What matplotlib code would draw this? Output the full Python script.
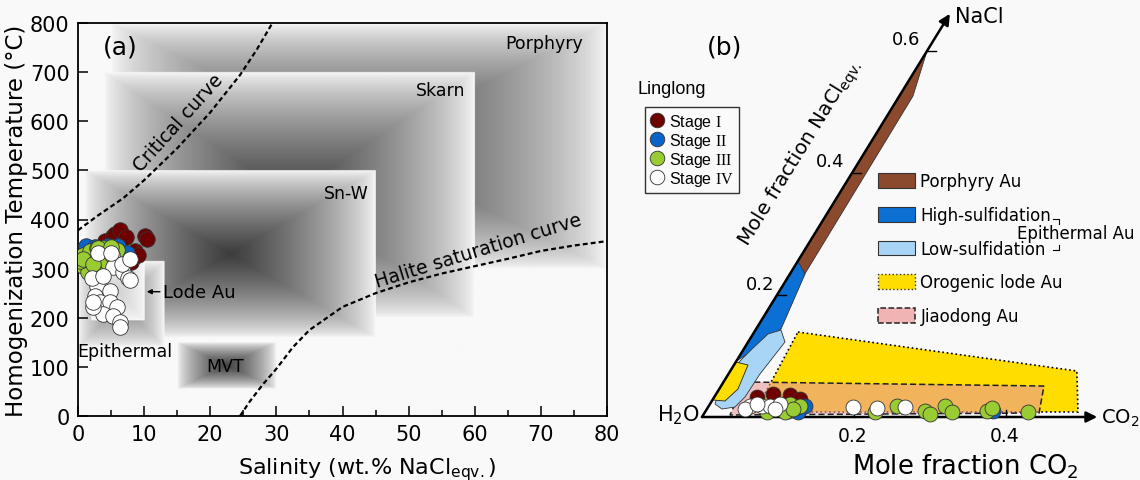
import numpy as np
import matplotlib
matplotlib.use('Agg')
import matplotlib.pyplot as plt
from matplotlib.lines import Line2D
from matplotlib.patches import Patch, Polygon
from matplotlib.transforms import Affine2D

plt.rcParams['font.family'] = ['DejaVu Sans']
plt.rcParams['mathtext.fontset'] = 'custom'
plt.rcParams['mathtext.rm'] = 'Liberation Serif'
plt.rcParams['mathtext.sf'] = 'DejaVu Sans'
plt.rcParams['mathtext.it'] = 'DejaVu Sans:italic'

# ---- panel (a): deposit fields (salinity wt.%, temperature C)
field_names = ['Porphyry', 'Skarn', 'Sn-W', 'MVT', 'Epithermal', 'Lode Au']
field_sal_lo = [5, 4, 1, 15, 0, 2]
field_sal_hi = [80, 60, 45, 30, 13, 10]
field_t_lo = [300, 200, 160, 55, 140, 195]
field_t_hi = [800, 700, 500, 150, 315, 315]

crit_sal = [0, 3, 6.8, 10, 15, 20, 24.5, 27, 29.4]
crit_t = [378, 408, 443, 480, 545, 618, 694, 745, 800]
halite_sal = [24.5, 26, 28, 30, 32.5, 35, 40, 45, 50, 55, 60, 65, 70, 75, 80]
halite_t = [0, 30, 65, 96, 140, 175, 222, 250, 272, 290, 305, 320, 336, 347, 356]

stages = ['Stage $\\mathrm{I}$', 'Stage $\\mathrm{II}$', 'Stage $\\mathrm{III}$', 'Stage $\\mathrm{IV}$']
s1_sal = [4.1, 5.3, 5.6, 6.4, 7.3, 8.0, 8.6, 9.1, 10.2, 10.5, 4.8, 6.4]
s1_t = [357, 367, 371, 378, 365, 314, 335, 327, 367, 360, 347, 335]
s2_sal = [1.2, 2.5, 4.4, 6.1, 7.4, 3.0]
s2_t = [347, 345, 347, 347, 331, 340]
s3_sal = [0.8, 1.8, 2.9, 3.8, 0.8, 2.1, 4.8, 5.9, 1.5, 3.0, 0.3, 4.4, 0.8, 3.0, 5.0, 2.3]
s3_t = [327, 335, 341, 341, 306, 314, 335, 337, 294, 300, 316, 314, 320, 341, 345, 310]
s4_sal = [3.0, 5.2, 5.3, 6.8, 7.6, 2.9, 4.8, 2.6, 3.3, 4.8, 5.9, 3.8, 5.3, 6.4, 6.4,
          2.3, 2.1, 3.8, 6.7, 7.9, 5.0, 7.9, 2.3]
s4_t = [331, 327, 304, 294, 280, 265, 255, 245, 233, 233, 222, 208, 204, 192, 182,
        222, 280, 284, 310, 320, 331, 276, 233]

# ---- panel (b): mole fractions (CO2, NaCl)
porph_co2 = [0, 0.018, 0.0196, 0]
porph_nacl = [0.60, 0.526, 0.2295, 0.256]
hs_co2 = [0, 0.0199, 0.0328, 0.0124, 0]
hs_nacl = [0.2557, 0.2344, 0.1443, 0.1082, 0.0918]
ls_co2 = [0.0197, 0.0336, 0.0485, 0.0415, 0.0404, 0.0353, 0.0198, 0.0066, 0.0025, 0.0047, 0.0108]
ls_nacl = [0.1361, 0.1426, 0.1230, 0.0705, 0.0328, 0.0164, 0.0131, 0.0213, 0.0377, 0.0918, 0.1115]
oro1_co2 = [0, 0.0185, 0.0247, 0.0173, 0.0007]
oro1_nacl = [0.0902, 0.0852, 0.0459, 0.0262, 0.0279]
oro2_co2 = [0.0575, 0.456, 0.4907, 0.0657]
oro2_nacl = [0.1393, 0.0754, 0.0082, 0.0082]
jd_co2 = [0.0283, 0.4249, 0.4402, 0.0352]
jd_nacl = [0.0574, 0.0508, 0.0066, 0.0033]

b1_co2 = [0.0562, 0.0749, 0.0980, 0.1143]
b1_nacl = [0.0328, 0.0377, 0.0361, 0.0295]
b2_co2 = [0.1266, 0.1222, 0.3780]
b2_nacl = [0.0180, 0.0082, 0.0098]
b3_co2 = [0.0815, 0.1083, 0.1170, 0.2236, 0.2476, 0.2886, 0.2976, 0.3108, 0.3249, 0.3701,
          0.3743, 0.4249, 0.1053, 0.1200, 0.1051, 0.1133]
b3_nacl = [0.0082, 0.0098, 0.0164, 0.0082, 0.0180, 0.0098, 0.0049, 0.0180, 0.0082, 0.0098,
           0.0148, 0.0082, 0.0213, 0.0180, 0.0082, 0.0131]
b4_co2 = [0.0543, 0.0700, 0.0805, 0.0921, 0.0501, 0.1906, 0.2230, 0.2590, 0.0618, 0.0896]
b4_nacl = [0.0180, 0.0180, 0.0180, 0.0213, 0.0131, 0.0164, 0.0148, 0.0164, 0.0213, 0.0131]

stage_colors = ['#6e0000', '#0a64c8', '#99cc33', 'white']

W, H = 1140, 481
def fpx(x, y):
    return x / W, 1 - y / H

fig = plt.figure(figsize=(11.4, 4.81), dpi=100, facecolor='#f9f9f9')

# ================= panel (a)
ax = fig.add_axes([78 / W, 1 - 417 / H, (607 - 78) / W, (417 - 24) / H])
ax.set_facecolor('#f8f8f8')
xs = np.linspace(0, 80, 801)
ys = np.linspace(0, 800, 801)
X, Y = np.meshgrid(xs, ys)
img = np.full(X.shape, 0.975)
depths = [0.72, 0.72, 0.74, 0.72, 0.45, 0.15]
for lo, hi, tlo, thi, d in zip(field_sal_lo, field_sal_hi, field_t_lo, field_t_hi, depths):
    inside = (X >= lo) & (X <= hi) & (Y >= tlo) & (Y <= thi)
    vx = np.minimum(X - lo, hi - X) / ((hi - lo) / 2)
    vy = np.minimum(Y - tlo, thi - Y) / ((thi - tlo) / 2)
    v = np.clip(np.minimum(vx, vy), 0, 1)
    img[inside] = (0.975 - d * v ** 0.7)[inside]
ax.imshow(img, extent=(0, 80, 0, 800), origin='lower', cmap='gray', vmin=0, vmax=1,
          aspect='auto', interpolation='bilinear', zorder=0)

ax.plot(crit_sal, crit_t, color='k', ls=(0, (2.2, 1.4)), lw=1.6, zorder=3)
ax.plot(halite_sal, halite_t, color='k', ls=(0, (2.2, 1.4)), lw=1.6, zorder=3)

for sal, t, c in zip([s1_sal, s2_sal, s3_sal, s4_sal], [s1_t, s2_t, s3_t, s4_t], stage_colors):
    ax.scatter(sal, t, s=125, c=c, edgecolors='#333333', linewidths=0.6, zorder=5)

ax.set_xlim(0, 80)
ax.set_ylim(0, 800)
ax.set_xticks(range(0, 81, 10))
ax.set_xticks(range(0, 81, 5), minor=True)
ax.set_yticks(range(0, 801, 100))
ax.tick_params(direction='in', length=7, width=1.1, labelsize=15, pad=6)
ax.tick_params(which='minor', direction='in', length=4, width=1.1)
for sp in ax.spines.values():
    sp.set_linewidth(1.3)
ax.set_xlabel('Salinity (wt.% NaCl$_\\mathsf{eqv.}$)', fontsize=16)
ax.set_ylabel('Homogenization Temperature (°C)', fontsize=16.5)
ax.xaxis.set_label_coords((367 - 78) / 529, -(456 - 417) / 393)
ax.yaxis.set_label_coords((28 - 78) / 529, 0.5)

ax.text(6.4, 753, '(a)', fontsize=18, ha='center', va='center')
ax.text(70.5, 760, 'Porphyry', fontsize=12.5, ha='center', va='center')
ax.text(54.8, 663, 'Skarn', fontsize=12.5, ha='center', va='center')
ax.text(40.5, 453, 'Sn-W', fontsize=12.5, ha='center', va='center')
ax.text(22.3, 102, 'MVT', fontsize=12.5, ha='center', va='center')
ax.text(7.1, 133, 'Epithermal', fontsize=12.5, ha='center', va='center')
ax.annotate('Lode Au', xy=(10.4, 253), xytext=(12.8, 253), fontsize=13, ha='left', va='center',
            arrowprops=dict(arrowstyle='-|>', color='k', lw=1, mutation_scale=7, shrinkA=0, shrinkB=0))
ax.text(15.2, 598, 'Critical curve', fontsize=13.5, ha='center', va='center', rotation=48)
ax.text(60.6, 337, 'Halite saturation curve', fontsize=13.5, ha='center', va='center', rotation=17)

# legend of stages
handles = [Line2D([], [], marker='o', ls='none', ms=10.5, mfc=c, mec='#333333', mew=0.6)
           for c in stage_colors]
fig.legend(handles, stages, loc='upper left', bbox_to_anchor=fpx(645, 108),
           prop={'family': 'Liberation Sans', 'size': 11.5},
           frameon=True, fancybox=False, edgecolor='#333333', framealpha=1, facecolor='#fafafa',
           handlelength=0.9, handletextpad=0.3, labelspacing=0.0, borderpad=0.3, borderaxespad=0)
fig.text(*fpx(672, 90), 'Linglong', fontsize=13, ha='center', va='center', family='Liberation Sans')

# ================= panel (b)
axb = fig.add_axes([640 / W, 0, 500 / W, 1])
axb.set_xlim(-62 / 760, 438 / 760)
axb.set_ylim(-63 / 760, 418 / 760)
axb.axis('off')
axb.patch.set_alpha(0)
tern = Affine2D.from_values(1, 0, 375 / 760, 610 / 760, 0, 0) + axb.transData

def poly(co2, nacl, **kw):
    axb.add_patch(Polygon(np.column_stack([co2, nacl]), closed=True, transform=tern, **kw))

poly(oro2_co2, oro2_nacl, fc='#ffdd00', ec='k', ls=':', lw=1.2, zorder=1)
poly(jd_co2, jd_nacl, fc='#e99a9a', ec='none', alpha=0.6, zorder=2)
poly(jd_co2, jd_nacl, fc='none', ec='#222222', ls=(0, (4, 2)), lw=1.1, zorder=2)
poly(porph_co2, porph_nacl, fc='#8b4a2e', ec='#333333', lw=0.6, zorder=3)
poly(hs_co2, hs_nacl, fc='#0b6fd4', ec='#333333', lw=0.6, zorder=3)
poly(ls_co2, ls_nacl, fc='#a8d4f5', ec='#333333', lw=0.6, zorder=3)
poly(oro1_co2, oro1_nacl, fc='#ffdd00', ec='#222222', lw=0.6, zorder=3)

arrow = dict(arrowstyle='-|>', lw=1.8, color='k', mutation_scale=16, shrinkA=0, shrinkB=0)
axb.annotate('', xy=(0.52, 0), xytext=(0, 0), xycoords=tern, textcoords=tern, arrowprops=arrow, zorder=4)
axb.annotate('', xy=(0, 0.661), xytext=(0, 0), xycoords=tern, textcoords=tern, arrowprops=arrow, zorder=4)
for v in [0.2, 0.4, 0.6]:
    axb.plot([0, 0.012], [v, v], color='k', lw=1, transform=tern, zorder=4)
for v in [0.2, 0.4]:
    axb.plot([v, v], [0, 0.009], color='k', lw=1, zorder=4)

for c2, nc, c in zip([b1_co2, b2_co2, b3_co2, b4_co2], [b1_nacl, b2_nacl, b3_nacl, b4_nacl], stage_colors):
    axb.scatter(c2, nc, s=115, c=c, edgecolors='#333333', linewidths=0.6, transform=tern, zorder=5)

fig.text(*fpx(725, 48), '(b)', fontsize=18, ha='center', va='center')
fig.text(*fpx(955, 17), 'NaCl', fontsize=15, ha='left', va='center')
fig.text(*fpx(700, 415), 'H$_\\mathsf{2}$O', fontsize=15, ha='right', va='center')
fig.text(*fpx(1101, 418), 'CO$_\\mathsf{2}$', fontsize=14, ha='left', va='center')
fig.text(*fpx(965, 467), 'Mole fraction CO$_\\mathsf{2}$', fontsize=18.5, ha='center', va='center')
fig.text(*fpx(801, 153), 'Mole fraction NaCl$_\\mathsf{eqv.}$', fontsize=14.5, ha='center', va='center',
         rotation=58.4, rotation_mode='anchor')
for lab, (px, py) in zip(['0.2', '0.4', '0.6'], [(760, 285), (830, 162), (906, 40)]):
    fig.text(*fpx(px, py), lab, fontsize=13, ha='center', va='center')
for lab, px in zip(['0.2', '0.4'], [853, 1005]):
    fig.text(*fpx(px, 437), lab, fontsize=13.5, ha='center', va='center')

type_labels = ['Porphyry Au', 'High-sulfidation', 'Low-sulfidation', 'Orogenic lode Au', 'Jiaodong Au']
type_handles = [Patch(fc='#8b4a2e', ec='#333333', lw=0.8),
                Patch(fc='#0b6fd4', ec='#333333', lw=0.8),
                Patch(fc='#a8d4f5', ec='#333333', lw=0.8),
                Patch(fc='#ffdd00', ec='#333333', lw=1.0, ls=':'),
                Patch(fc='#f0b4b4', ec='#222222', lw=1.1, ls='--')]
fig.legend(type_handles, type_labels, loc='upper left', bbox_to_anchor=fpx(878, 173), fontsize=12,
           frameon=False, handlelength=2.2, handleheight=1.0, handletextpad=0.35,
           labelspacing=0.95, borderpad=0, borderaxespad=0)
fig.text(*fpx(1017, 234), 'Epithermal Au', fontsize=12, ha='left', va='center')
for xs_, ys_ in [([1053, 1059, 1059], [220, 220, 225]), ([1059, 1059, 1053], [246, 251, 251])]:
    fig.add_artist(Line2D([x / W for x in xs_], [1 - y / H for y in ys_], color='k', lw=0.8,
                          transform=fig.transFigure))

fig.savefig('out.png', dpi=100, facecolor=fig.get_facecolor())
